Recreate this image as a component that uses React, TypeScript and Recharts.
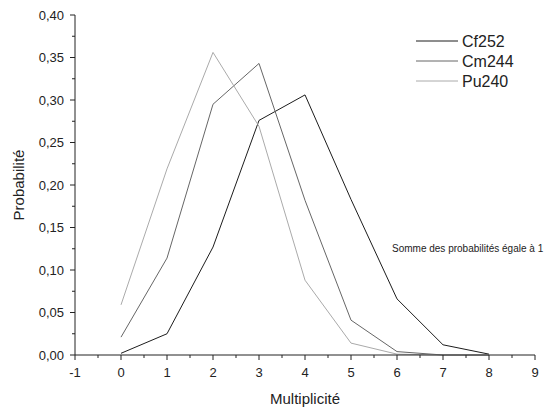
import React from "react";
import { LineChart, Line, XAxis, YAxis } from "recharts";

// multiplicity (number of neutrons) and probability per isotope
const multiplicity = [0, 1, 2, 3, 4, 5, 6, 7, 8];
const cf252 = [0.002, 0.025, 0.127, 0.276, 0.306, 0.183, 0.066, 0.012, 0.001];
const cm244 = [0.021, 0.114, 0.295, 0.343, 0.182, 0.041, 0.004, 0.0, 0.0];
const pu240 = [0.059, 0.219, 0.356, 0.269, 0.088, 0.014, 0.001, 0.0, 0.0];

const xTicks = [-1, -0.5, 0, 0.5, 1, 1.5, 2, 2.5, 3, 3.5, 4, 4.5, 5, 5.5, 6, 6.5, 7, 7.5, 8, 8.5, 9];
const yTicks = [
  0, 0.025, 0.05, 0.075, 0.1, 0.125, 0.15, 0.175, 0.2, 0.225, 0.25, 0.275, 0.3, 0.325, 0.35,
  0.375, 0.4,
];

const series = [
  { key: "cf252", name: "Cf252", color: "#1c1c1c" },
  { key: "cm244", name: "Cm244", color: "#666666" },
  { key: "pu240", name: "Pu240", color: "#aaaaaa" },
];

const data = multiplicity.map((m, i) => ({
  m,
  cf252: cf252[i],
  cm244: cm244[i],
  pu240: pu240[i],
}));

const FONT = "'Liberation Sans', Arial, sans-serif";
const AXIS = "#222";

const XTick = (props: any) => {
  const { x, y, payload } = props;
  const v = payload.value;
  const major = Number.isInteger(v);
  return (
    <g>
      <line x1={x} x2={x} y1={y} y2={y + (major ? 5 : 3)} stroke={AXIS} />
      {major && (
        <text x={x} y={y + 22} textAnchor="middle" fontSize={13} fill="#222" fontFamily={FONT}>
          {v}
        </text>
      )}
    </g>
  );
};

const YTick = (props: any) => {
  const { x, y, payload } = props;
  const v = payload.value;
  const major = Math.round(v * 1000) % 50 === 0;
  return (
    <g>
      <line x1={x - (major ? 5 : 3)} x2={x} y1={y} y2={y} stroke={AXIS} />
      {major && (
        <text x={x - 11} y={y + 4.5} textAnchor="end" fontSize={13} fill="#222" fontFamily={FONT}>
          {v.toFixed(2).replace(".", ",")}
        </text>
      )}
    </g>
  );
};

export default function App() {
  return (
    <div style={{ position: "absolute", left: 0, top: 0, background: "#fff" }}>
      <LineChart
        width={549}
        height={410}
        data={data}
        margin={{ top: 15, right: 14, bottom: 0, left: 0 }}
      >
        <XAxis
          dataKey="m"
          type="number"
          domain={[-1, 9]}
          ticks={xTicks}
          interval={0}
          tickLine={false}
          tickSize={0}
          tickMargin={0}
          tick={<XTick />}
          height={55}
          stroke={AXIS}
          label={{
            value: "Multiplicité",
            position: "insideBottom",
            offset: 6,
            fontSize: 15,
            fill: "#222",
            fontFamily: FONT,
          }}
        />
        <YAxis
          type="number"
          domain={[0, 0.4]}
          ticks={yTicks}
          interval={0}
          tickLine={false}
          tickSize={0}
          tickMargin={0}
          tick={<YTick />}
          width={75}
          stroke={AXIS}
          label={{
            value: "Probabilité",
            angle: -90,
            position: "insideLeft",
            offset: 19,
            fontSize: 15,
            fill: "#222",
            fontFamily: FONT,
            style: { textAnchor: "middle" },
          }}
        />
        {series.map((s) => (
          <Line
            key={s.key}
            dataKey={s.key}
            name={s.name}
            stroke={s.color}
            strokeWidth={1}
            dot={false}
            type="linear"
            isAnimationActive={false}
          />
        ))}
        <g>
          {series.map((s, i) => (
            <g key={s.key}>
              <line x1={416} x2={458} y1={41 + i * 20} y2={41 + i * 20} stroke={s.color} strokeWidth={1} />
              <text x={462} y={47 + i * 20} fontSize={16} fill="#222" fontFamily={FONT}>
                {s.name}
              </text>
            </g>
          ))}
        </g>
        <text x={392} y={252} fontSize={10} fill="#222" fontFamily={FONT}>
          Somme des probabilités égale à 1
        </text>
      </LineChart>
    </div>
  );
}
